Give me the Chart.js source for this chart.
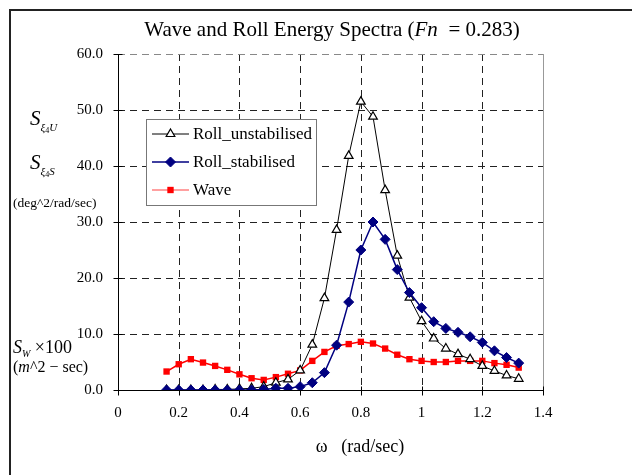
<!DOCTYPE html>
<html>
<head>
<meta charset="utf-8">
<script src="https://cdn.jsdelivr.net/npm/chart.js@4.4.1/dist/chart.umd.min.js"></script>
<style>
  html,body{margin:0;padding:0;background:#fff;}
  body{width:632px;height:475px;overflow:hidden;position:relative;font-family:"Liberation Serif","Times New Roman",serif;color:#000;}
  #frame{position:absolute;left:9px;top:9px;width:700px;height:500px;border-left:2px solid #222;border-top:2px solid #222;}
  #c{position:absolute;left:0;top:0;}
  .lbl{position:absolute;white-space:nowrap;line-height:1;}
  sub{line-height:1;}
</style>
</head>
<body>
<div id="frame"></div>
<canvas id="c" width="632" height="475"></canvas>
<div class="lbl" id="title" style="left:332px;top:19px;font-size:21px;transform:translateX(-50%);">Wave and Roll Energy Spectra (<i>Fn</i>&nbsp; = 0.283)</div>
<div class="lbl" style="left:30px;top:108px;font-size:21px;"><i>S</i><sub style="font-size:11px;vertical-align:-6px;"><i>ξ</i><sub style="font-size:8px;vertical-align:-2px;">4</sub><i>U</i></sub></div>
<div class="lbl" style="left:30px;top:152px;font-size:21px;"><i>S</i><sub style="font-size:11px;vertical-align:-6px;"><i>ξ</i><sub style="font-size:8px;vertical-align:-2px;">4</sub><i>S</i></sub></div>
<div class="lbl" style="left:13px;top:196px;font-size:13.5px;">(deg^2/rad/sec)</div>
<div class="lbl" style="left:13px;top:338px;font-size:18px;"><i>S</i><sub style="font-size:10px;vertical-align:-4px;"><i>W</i></sub> ×100</div>
<div class="lbl" style="left:13px;top:359px;font-size:16px;">(<i>m</i>^2 − sec)</div>
<div class="lbl" style="left:360px;top:437px;font-size:18px;transform:translateX(-50%);">ω&nbsp;&nbsp; (rad/sec)</div>
<script>
// ---- data ----
const omega = [0.16,0.20,0.24,0.28,0.32,0.36,0.40,0.44,0.48,0.52,0.56,0.60,0.64,0.68,0.72,0.76,0.80,0.84,0.88,0.92,0.96,1.00,1.04,1.08,1.12,1.16,1.20,1.24,1.28,1.32];
const rollUnstabilised = [0.0,0.0,0.0,0.0,0.1,0.1,0.2,0.3,0.6,1.3,1.9,3.5,8.1,16.4,28.6,41.8,51.5,48.8,35.7,24.0,16.5,12.3,9.2,7.4,6.4,5.5,4.3,3.4,2.6,2.0];
const rollStabilised = [0.0,0.0,0.0,0.0,0.0,0.0,0.0,0.0,0.1,0.3,0.3,0.6,1.3,3.1,8.0,15.7,25.0,30.0,26.9,21.5,17.4,14.7,12.2,11.0,10.3,9.5,8.5,7.0,5.8,4.8];
const wave = [3.3,4.6,5.5,4.9,4.3,3.6,2.8,2.1,1.8,2.3,2.9,3.5,5.2,6.8,7.9,8.2,8.6,8.3,7.4,6.3,5.5,5.2,5.0,5.0,5.2,5.2,5.2,4.8,4.5,4.0];
const seriesNames = ["Roll_unstabilised","Roll_stabilised","Wave"];
const xTicks = [0,0.2,0.4,0.6,0.8,1.0,1.2,1.4];
const yTicks = [0,10,20,30,40,50,60];

const pts = arr => omega.map((x,i)=>({x:x,y:arr[i]}));
const FONT = '"Liberation Serif","Times New Roman",serif';

function drawMarker(ctx, ds, x, y){
  ctx.save();
  ctx.fillStyle = ds.pointBackgroundColor;
  ctx.strokeStyle = ds.pointBorderColor;
  ctx.lineWidth = ds.pointBorderWidth;
  const r = ds.pointRadius;
  ctx.beginPath();
  if (ds.pointStyle === 'triangle'){
    ctx.moveTo(x, y - r);
    ctx.lineTo(x + r*0.866, y + r/2);
    ctx.lineTo(x - r*0.866, y + r/2);
    ctx.closePath();
  } else if (ds.pointStyle === 'rectRot'){
    ctx.moveTo(x, y - r); ctx.lineTo(x + r, y); ctx.lineTo(x, y + r); ctx.lineTo(x - r, y); ctx.closePath();
  } else {
    const s = r*Math.SQRT1_2;
    ctx.rect(x - s, y - s, 2*s, 2*s);
  }
  ctx.fill();
  if (ds.pointBorderWidth) ctx.stroke();
  ctx.restore();
}

const framePlugin = {
  id:'framePlugin',
  beforeDatasetsDraw(chart){
    const {ctx, chartArea:{left,right,top,bottom}, scales:{x,y}} = chart;
    const line=(a,b,c,d)=>{ctx.beginPath();ctx.moveTo(a,b);ctx.lineTo(c,d);ctx.stroke();};
    ctx.save();
    ctx.lineWidth = 1;
    ctx.setLineDash([7,5]);
    ctx.strokeStyle = '#222';
    xTicks.forEach(v=>{ if (v===0 || v===1.4) return; const px=Math.round(x.getPixelForValue(v))+0.5; line(px,top,px,bottom); });
    yTicks.forEach(v=>{ if (v===0) return; const py=Math.round(y.getPixelForValue(v))+0.5; ctx.strokeStyle = (v===60)?'#888':'#222'; line(left,py,right,py); });
    ctx.setLineDash([]);
    ctx.strokeStyle = '#999';
    const rx = Math.round(right)+0.5;
    line(rx, top, rx, bottom);
    ctx.strokeStyle = '#000';
    const bx = Math.round(left)+0.5, by = Math.round(bottom)+0.5;
    line(left, by, right, by);
    line(bx, top, bx, bottom);
    xTicks.forEach(v=>{ const px=Math.round(x.getPixelForValue(v))+0.5; line(px, by-4, px, by+5); });
    yTicks.forEach(v=>{ const py=Math.round(y.getPixelForValue(v))+0.5; line(bx-5, py, bx+4, py); });
    ctx.restore();
  },
  afterDatasetsDraw(chart){
    const ctx = chart.ctx;
    ctx.save();
    const bx=146.5, byy=119.5, bw=170, bh=86;
    ctx.fillStyle='#fff'; ctx.fillRect(bx,byy,bw,bh);
    ctx.strokeStyle='#777'; ctx.lineWidth=1; ctx.strokeRect(bx,byy,bw,bh);
    const rows=[134,162,190];
    chart.data.datasets.forEach((ds,i)=>{
      const yy=rows[i];
      ctx.strokeStyle = ds.legendLine || ds.borderColor; ctx.lineWidth = ds.borderWidth;
      ctx.beginPath(); ctx.moveTo(152,yy); ctx.lineTo(189,yy); ctx.stroke();
      drawMarker(ctx, ds, 170.5, yy);
      ctx.fillStyle='#000'; ctx.font='17px '+FONT; ctx.textBaseline='middle'; ctx.textAlign='left';
      ctx.fillText(ds.label, 193, yy+1);
    });
    ctx.restore();
  }
};

new Chart(document.getElementById('c'), {
  type:'line',
  data:{
    datasets:[
      {label:seriesNames[0], data:pts(rollUnstabilised), borderColor:'#000', borderWidth:1, pointStyle:'triangle', pointRadius:5, pointBackgroundColor:'#fff', pointBorderColor:'#000', pointBorderWidth:1.2, tension:0, order:1},
      {label:seriesNames[1], data:pts(rollStabilised), borderColor:'#000080', borderWidth:1.5, pointStyle:'rectRot', pointRadius:5, pointBackgroundColor:'#000080', pointBorderColor:'#000080', pointBorderWidth:1, tension:0, order:0},
      {label:seriesNames[2], data:pts(wave), borderColor:'#ff0000', legendLine:'#ff8080', borderWidth:1.5, pointStyle:'rect', pointRadius:4.5, pointBackgroundColor:'#ff0000', pointBorderColor:'#ff0000', pointBorderWidth:0, tension:0, order:2}
    ]
  },
  options:{
    responsive:false, animation:false, devicePixelRatio:1,
    layout:{padding:{left:58,right:89,top:54,bottom:45}},
    plugins:{legend:{display:false}, tooltip:{enabled:false}, title:{display:false}},
    scales:{
      x:{type:'linear', min:0, max:1.4,
         afterBuildTicks(s){ s.ticks = xTicks.map(v=>({value:v})); },
         ticks:{padding:14, color:'#000', font:{family:FONT,size:15}, callback:v=>String(Math.round(v*10)/10)},
         grid:{display:false, drawTicks:false}, border:{display:false},
         afterFit(s){ s.height=40; }},
      y:{type:'linear', min:0, max:60,
         afterBuildTicks(s){ s.ticks = yTicks.map(v=>({value:v})); },
         ticks:{padding:15, color:'#000', font:{family:FONT,size:15}, callback:v=>Number(v).toFixed(1)},
         grid:{display:false, drawTicks:false}, border:{display:false},
         afterFit(s){ s.width=60; }}
    }
  },
  plugins:[framePlugin]
});
</script>
</body>
</html>
